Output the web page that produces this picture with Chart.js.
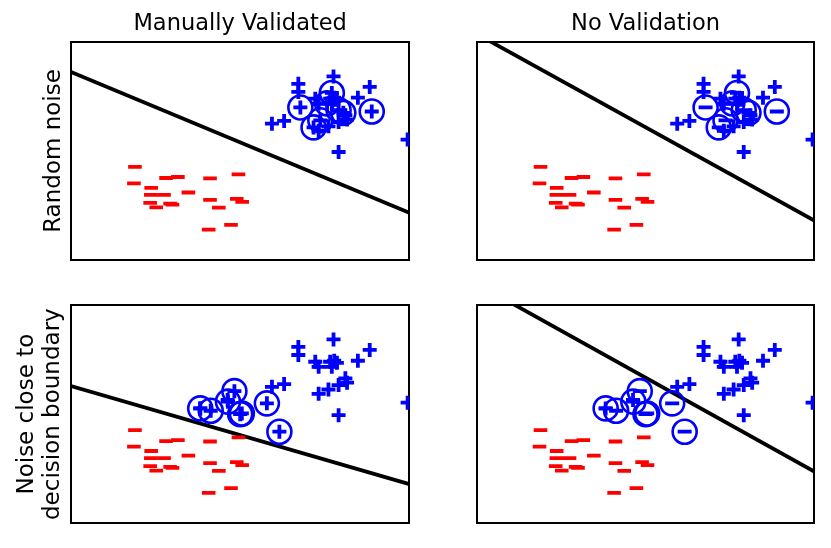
<!DOCTYPE html>
<html>
<head>
<meta charset="utf-8">
<script src="https://cdn.jsdelivr.net/npm/chart.js@4.4.1/dist/chart.umd.min.js"></script>
<style>
  body { margin: 0; background: #fff; }
  #wrap { position: relative; width: 831px; height: 548px; overflow: hidden; }
  canvas { position: absolute; }
</style>
</head>
<body>
<div id="wrap">
  <canvas id="tl" width="420" height="270" style="left:0px;top:0px"></canvas>
  <canvas id="tr" width="411" height="270" style="left:420px;top:0px"></canvas>
  <canvas id="bl" width="420" height="273" style="left:0px;top:275px"></canvas>
  <canvas id="br" width="411" height="273" style="left:420px;top:275px"></canvas>
</div>
<script>
// negative class (red "-")
const redX = [1.89, 1.86, 2.37, 2.81, 3.16, 2.36, 2.75, 3.47, 4.11, 4.95, 2.34, 2.52, 2.93, 3.00, 4.11, 4.37, 4.90, 5.06, 4.07, 4.73]
const redY = [2.76, 2.27, 2.14, 2.43, 2.46, 1.93, 1.93, 2.00, 2.42, 2.54, 1.69, 1.56, 1.67, 1.64, 1.78, 1.55, 1.81, 1.72, 0.90, 1.04]

// positive class (blue "+")
const blueX = [6.72, 6.72, 7.76, 8.83, 8.48, 7.22, 7.32, 7.66, 7.78, 7.86, 7.71, 8.11, 8.16, 7.91, 7.32, 7.61, 7.91, 5.94, 6.30, 9.95]
const blueY = [5.22, 4.98, 5.44, 5.13, 4.81, 4.78, 4.63, 4.78, 4.81, 4.75, 4.63, 4.29, 4.16, 4.09, 3.83, 3.96, 3.20, 4.04, 4.12, 3.57]
const blueNearX = [3.82, 4.63]
const blueNearY = [3.40, 3.65]

// noisy points (circled)
const randNoiseX = [6.78, 7.71, 7.17, 8.05, 8.89, 7.37, 7.57, 7.91]
const randNoiseY = [4.52, 4.95, 3.93, 4.36, 4.40, 4.14, 4.64, 4.44]
const nearNoiseX = [3.82, 4.13, 4.64, 4.83, 5.00, 5.05, 5.79, 6.16]
const nearNoiseY = [3.40, 3.33, 3.60, 3.91, 3.23, 3.25, 3.55, 2.71]

// decision boundaries, y at x = 0 and x = 10
const lineX = [0, 10]
const lineManualRand = [5.57, 1.40]
const lineNoneRand = [6.70, 1.17]
const lineManualNear = [4.06, 1.16]
const lineNoneNear = [7.09, 1.53]

const colTitles = ['Manually Validated', 'No Validation']
const rowTitles = ['Random noise', ['Noise close to', 'decision boundary']]

Chart.defaults.font.family = 'DejaVu Sans'
Chart.defaults.color = '#000'

function toPoints(xs, ys) {
  return xs.map((x, i) => ({ x: x, y: ys[i] }))
}

function frameAxis(position, max) {
  return {
    type: 'linear',
    position: position,
    min: 0,
    max: max,
    ticks: { display: false },
    grid: { display: false, drawTicks: false },
    border: { display: true, color: '#000', width: 2 },
  }
}

// move the plot area onto the wanted box (page coords)
function fitToBox(chart, box) {
  const canvas = chart.canvas
  const cx = parseFloat(canvas.style.left)
  const cy = parseFloat(canvas.style.top)
  const a = chart.chartArea
  const p = Object.assign({}, chart.config.options.layout.padding)
  p.left += (box.left - cx) - a.left
  p.top += (box.top - cy) - a.top
  p.right += a.right - (box.right - cx)
  p.bottom += a.bottom - (box.bottom - cy)
  chart.config.options.layout.padding = p
  chart.update()
}

function makePanel(id, cfg) {
  const datasets = [
    {
      data: toPoints(lineX, cfg.line),
      showLine: true,
      borderColor: '#000',
      borderWidth: 3.8,
      pointRadius: 0,
      clip: 0,
      order: 5,
    },
    {
      data: toPoints(redX, redY),
      pointStyle: 'line',
      pointRadius: 6.8,
      pointBorderWidth: 3.8,
      pointBorderColor: '#ff0000',
      clip: 0,
      order: 4,
    },
    {
      data: toPoints(cfg.blueX, cfg.blueY),
      pointStyle: 'cross',
      pointRadius: 7,
      pointBorderWidth: 3.8,
      pointBorderColor: '#0000ff',
      clip: 0,
      order: 3,
    },
    {
      data: toPoints(cfg.noiseX, cfg.noiseY),
      pointStyle: 'circle',
      pointRadius: 12,
      pointBorderWidth: 2.6,
      pointBorderColor: '#0000ff',
      pointBackgroundColor: 'rgba(0,0,0,0)',
      clip: 0,
      order: 1,
    },
    {
      data: toPoints(cfg.noiseX, cfg.noiseY),
      pointStyle: cfg.noiseMark,
      pointRadius: 7,
      pointBorderWidth: 3.8,
      pointBorderColor: '#0000ff',
      clip: 0,
      order: 0,
    },
  ]

  const yAxis = frameAxis('left', 6.46)
  if (cfg.yTitle) {
    yAxis.title = {
      display: true,
      text: cfg.yTitle,
      font: { size: 23, lineHeight: cfg.yLineHeight },
      padding: cfg.yPad,
    }
  }

  const chart = new Chart(document.getElementById(id), {
    type: 'scatter',
    data: { datasets: datasets },
    options: {
      responsive: false,
      animation: false,
      events: [],
      layout: { autoPadding: false, padding: { top: 0, left: 0, right: 0, bottom: 0 } },
      plugins: {
        legend: { display: false },
        tooltip: { enabled: false },
        title: {
          display: !!cfg.title,
          text: cfg.title,
          fullSize: false,
          font: { size: 22.5, weight: 'normal' },
          padding: { top: 10, bottom: 4.2 },
        },
      },
      scales: {
        x: frameAxis('bottom', 10),
        x2: frameAxis('top', 10),
        y: yAxis,
        y2: frameAxis('right', 6.46),
      },
    },
  })
  fitToBox(chart, cfg.box)
  return chart
}

makePanel('tl', {
  title: colTitles[0],
  yTitle: rowTitles[0],
  yLineHeight: 1.2,
  yPad: { top: 40, bottom: 3.4 },
  box: { left: 71, top: 42, right: 409.3, bottom: 260 },
  line: lineManualRand,
  blueX: blueX, blueY: blueY,
  noiseX: randNoiseX, noiseY: randNoiseY,
  noiseMark: 'cross',
})

makePanel('tr', {
  title: colTitles[1],
  box: { left: 476.7, top: 42, right: 814.3, bottom: 260 },
  line: lineNoneRand,
  blueX: blueX, blueY: blueY,
  noiseX: randNoiseX, noiseY: randNoiseY,
  noiseMark: 'line',
})

makePanel('bl', {
  yTitle: rowTitles[1],
  yLineHeight: 1.12,
  yPad: { top: 13, bottom: 5.5 },
  box: { left: 71, top: 305, right: 409.3, bottom: 523.3 },
  line: lineManualNear,
  blueX: blueX.concat(blueNearX), blueY: blueY.concat(blueNearY),
  noiseX: nearNoiseX, noiseY: nearNoiseY,
  noiseMark: 'cross',
})

makePanel('br', {
  box: { left: 476.7, top: 305, right: 814.3, bottom: 523.3 },
  line: lineNoneNear,
  blueX: blueX.concat(blueNearX), blueY: blueY.concat(blueNearY),
  noiseX: nearNoiseX, noiseY: nearNoiseY,
  noiseMark: 'line',
})
</script>
</body>
</html>
